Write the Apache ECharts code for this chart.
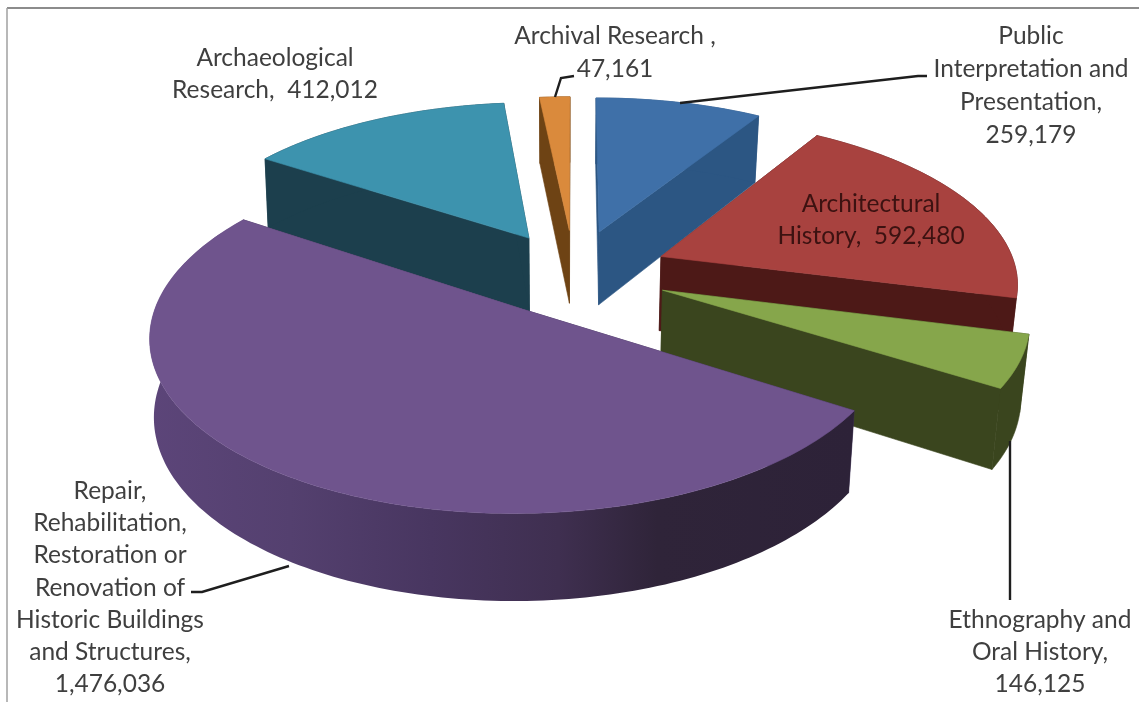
<!DOCTYPE html>
<html>
<head>
<meta charset="utf-8">
<style>
  html, body { margin: 0; padding: 0; background: #fff; }
  #main { width: 1139px; height: 702px; }
</style>
<script src="https://cdn.jsdelivr.net/npm/echarts@6/dist/echarts.min.js"></script>
</head>
<body>
<div id="main"></div>
<script>
// slices, clockwise from 12 o'clock
var categories = ['Public Interpretation and Presentation', 'Architectural History', 'Ethnography and Oral History',
  'Repair, Rehabilitation, Restoration or Renovation of Historic Buildings and Structures', 'Archaeological Research', 'Archival Research'];
var values = [259179, 592480, 146125, 1476036, 412012, 47161];

var topColors = ['#3f70a8', '#a8423f', '#86a64b', '#6f548d', '#3d93ae', '#da8a3c'];
var wallColors = ['#2c5683', '#4d1917', '#3a451e', '#3d2f52', '#1c3f4d', '#6e4314'];
// back to front
var drawOrder = [5, 4, 0, 1, 2, 3];
// how far each slice is pulled out
var explode = [95, 95, 95, 92, 90, 95];

// label text, one row per line
var labelLines = [
  ['Public', 'Interpretation and', 'Presentation,', '{v}'],
  ['Architectural', 'History,  {v}'],
  ['Ethnography and', 'Oral History,', '{v}'],
  ['Repair,', 'Rehabilitation,', 'Restoration or', 'Renovation of', 'Historic Buildings', 'and Structures,', '{v}'],
  ['Archaeological', 'Research,  {v}'],
  ['Archival Research ,', '{v}']
];
var labelPos = [[1031, 36, 33], [871, 204, 32], [1040, 620, 32], [110, 491, 32.2], [275, 58, 32], [615, 36, 33]];

// leader lines
var leaders = [
  [[680, 103], [918, 76], [927, 76]],
  [[1010, 441], [1010, 600]],
  [[289, 566], [202, 592], [191, 592]],
  [[555, 97], [561, 78], [574, 76]]
];

// view of the pie
var cx = 574, cy = 272.5, R = 356, tilt = 0.46, persp = 2500;

var total = values.reduce(function (a, b) { return a + b; }, 0);
var starts = [];
values.reduce(function (acc, v, i) { starts[i] = acc; return acc + v; }, 0);

function project(u, v, bottom) {
  var s = 1 / (1 - v / persp);
  var x = cx + u * s;
  var y = cy + tilt * v * s;
  if (bottom) {
    x = cx + (x - cx) * (x < cx ? 0.99 : 0.98);
    y += 15 + 60 * s;
  }
  return [x, y];
}

function renderSlice(params, api) {
  var i = api.value(0);
  var a0 = starts[i] / total * Math.PI * 2;
  var a1 = (starts[i] + api.value(1)) / total * Math.PI * 2;
  var mid = (a0 + a1) / 2;
  var ox = Math.sin(mid) * explode[i], oy = -Math.cos(mid) * explode[i];
  var z = drawOrder.indexOf(i) * 10;

  var arcTop = [], arcBottom = [];
  var n = Math.max(2, Math.ceil((a1 - a0) / 0.02));
  for (var k = 0; k <= n; k++) {
    var a = a0 + (a1 - a0) * k / n;
    var u = ox + Math.sin(a) * R, v = oy - Math.cos(a) * R;
    arcTop.push(project(u, v, false));
    arcBottom.push(project(u, v, true));
  }
  var apexTop = project(ox, oy, false), apexBottom = project(ox, oy, true);

  function poly(points, fill, z2) {
    return { type: 'polygon', z2: z + z2, shape: { points: points },
      style: { fill: fill, stroke: typeof fill === 'string' ? fill : 'none', lineWidth: 0.6 } };
  }

  var arcFill = wallColors[i];
  if (i === 3) {
    // purple rim gets darker to the right
    arcFill = { type: 'linear', x: 0, y: 0, x2: 1, y2: 0, colorStops: [
      { offset: 0, color: '#5c4579' }, { offset: 0.2, color: '#54406f' },
      { offset: 0.4, color: '#483660' }, { offset: 0.58, color: '#3f2f50' },
      { offset: 0.72, color: '#2f2439' }, { offset: 1, color: '#2d2238' }
    ] };
  }

  return {
    type: 'group',
    children: [
      poly([apexTop, arcTop[0], arcBottom[0], apexBottom], wallColors[i], 1),
      poly([apexTop, arcTop[n], arcBottom[n], apexBottom], wallColors[i], 2),
      poly(arcTop.concat(arcBottom.slice().reverse()), arcFill, 3),
      poly([apexTop].concat(arcTop), topColors[i], 4)
    ]
  };
}

var graphics = [];
// frame
graphics.push({ type: 'line', shape: { x1: 7, y1: 8, x2: 1139, y2: 8 }, style: { stroke: '#8c8c8c', lineWidth: 2 }, z: 5 });
graphics.push({ type: 'line', shape: { x1: 7, y1: 8, x2: 7, y2: 702 }, style: { stroke: '#a0a0a0', lineWidth: 1.5 }, z: 5 });

leaders.forEach(function (pts) {
  graphics.push({ type: 'polyline', shape: { points: pts }, style: { stroke: '#1e1e1e', fill: 'none', lineWidth: 2.4 }, z: 20 });
});

labelLines.forEach(function (rows, i) {
  var p = labelPos[i];
  var val = values[i].toLocaleString('en-US');
  rows.forEach(function (row, r) {
    graphics.push({
      type: 'text', z: 30, x: p[0], y: p[1] + r * p[2],
      style: {
        text: row.replace('{v}', val),
        font: '24.5px Lato, "Open Sans", sans-serif',
        fill: i === 1 ? '#3c1211' : '#3f3f3f',
        align: 'center', verticalAlign: 'middle'
      }
    });
  });
});

var chart = echarts.init(document.getElementById('main'));
chart.setOption({
  backgroundColor: '#ffffff',
  animation: false,
  graphic: graphics,
  series: [{
    type: 'custom',
    coordinateSystem: 'none',
    renderItem: renderSlice,
    silent: true,
    data: values.map(function (v, i) { return [i, v]; })
  }]
});
</script>
</body>
</html>
